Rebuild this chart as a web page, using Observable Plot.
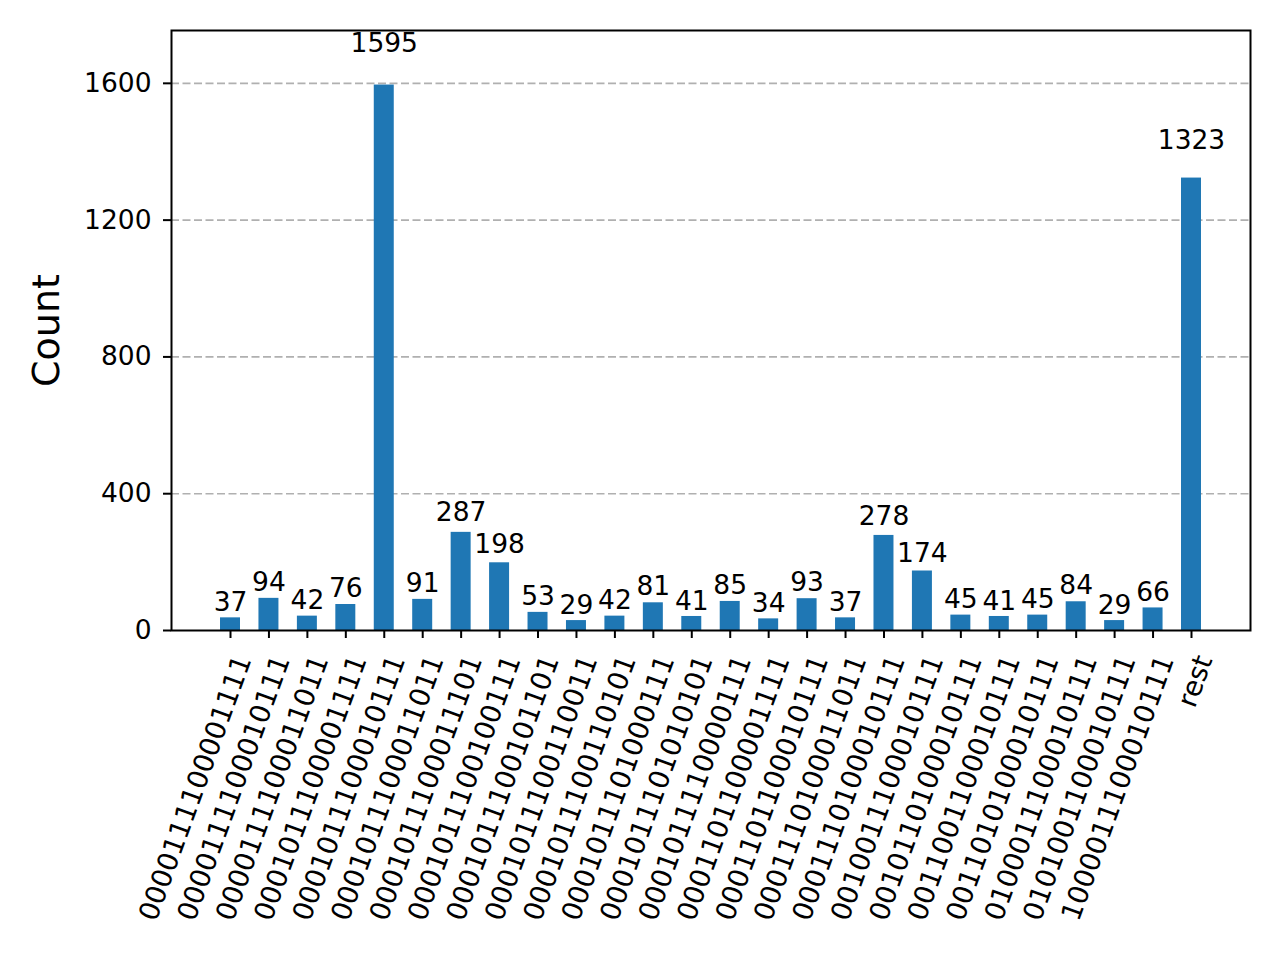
<!DOCTYPE html>
<html>
<head>
<meta charset="utf-8">
<script src="https://cdn.jsdelivr.net/npm/d3@7"></script>
<script src="https://cdn.jsdelivr.net/npm/@observablehq/plot@0.6"></script>
<style>
  html, body { margin: 0; padding: 0; background: #fff; }
  #chart svg { display: block; }
</style>
</head>
<body>
<div id="chart"></div>
<script>
const labels = [
  "0000111100001111", "0000111100010111", "0000111100011011", "0001011100001111",
  "0001011100010111", "0001011100011011", "0001011100011101", "0001011100100111",
  "0001011100101101", "0001011100110011", "0001011100110101", "0001011101000111",
  "0001011101010101", "0001011110000111", "0001101100001111", "0001101100010111",
  "0001110100011011", "0001110100010111", "0010011100010111", "0010110100010111",
  "0011001100010111", "0011010100010111", "0100011100010111", "0101001100010111",
  "1000011100010111", "rest"
];
const counts = [37, 94, 42, 76, 1595, 91, 287, 198, 53, 29, 42, 81, 41, 85, 34, 93, 37, 278, 174, 45, 41, 45, 84, 29, 66, 1323];
const yTicks = [0, 400, 800, 1200, 1600];
const gridTicks = [400, 800, 1200, 1600];
const yLabel = "Count";

const data = labels.map((label, i) => ({label, count: counts[i]}));
const font = "DejaVu Sans";

const chart = Plot.plot({
  width: 1280,
  height: 960,
  marginLeft: 171,
  marginRight: 30,
  marginTop: 30,
  marginBottom: 330,
  style: {fontFamily: font, background: "#fff", color: "#000"},
  x: {type: "band", domain: labels, paddingInner: 0.48, paddingOuter: 1.275, round: false, label: null},
  y: {domain: [0, d3.max(counts) * 1.1], label: null},
  marks: [
    Plot.gridY(gridTicks, {stroke: "#b0b0b0", strokeOpacity: 1, strokeWidth: 1.6, strokeDasharray: "8,3.5"}),
    Plot.barY(data, {x: "label", y: "count", fill: "#1f77b4"}),
    Plot.text(data, {
      x: "label", y: d => d.count * 1.05, text: d => String(d.count),
      lineAnchor: "bottom", dy: -6, fontSize: 26.5, fill: "#000"
    }),
    Plot.axisY({ticks: yTicks, tickFormat: d => String(d), tickSize: 8, tickPadding: 12, fontSize: 26.5, label: null, strokeWidth: 2}),
    Plot.axisX({tickSize: 8, tickFormat: () => "", label: null, strokeWidth: 2}),
    Plot.text(labels, {
      x: d => d, text: d => d, frameAnchor: "bottom", rotate: -70,
      textAnchor: "end", lineAnchor: "middle", dx: 13, dy: 26, fontSize: 27.5, fill: "#000"
    }),
    Plot.text([yLabel], {
      frameAnchor: "left", text: d => d, rotate: -90, dx: -125,
      textAnchor: "middle", lineAnchor: "middle", fontSize: 38, fill: "#000"
    }),
    Plot.frame({stroke: "#000", strokeWidth: 2})
  ]
});
document.getElementById("chart").appendChild(chart);
</script>
</body>
</html>
